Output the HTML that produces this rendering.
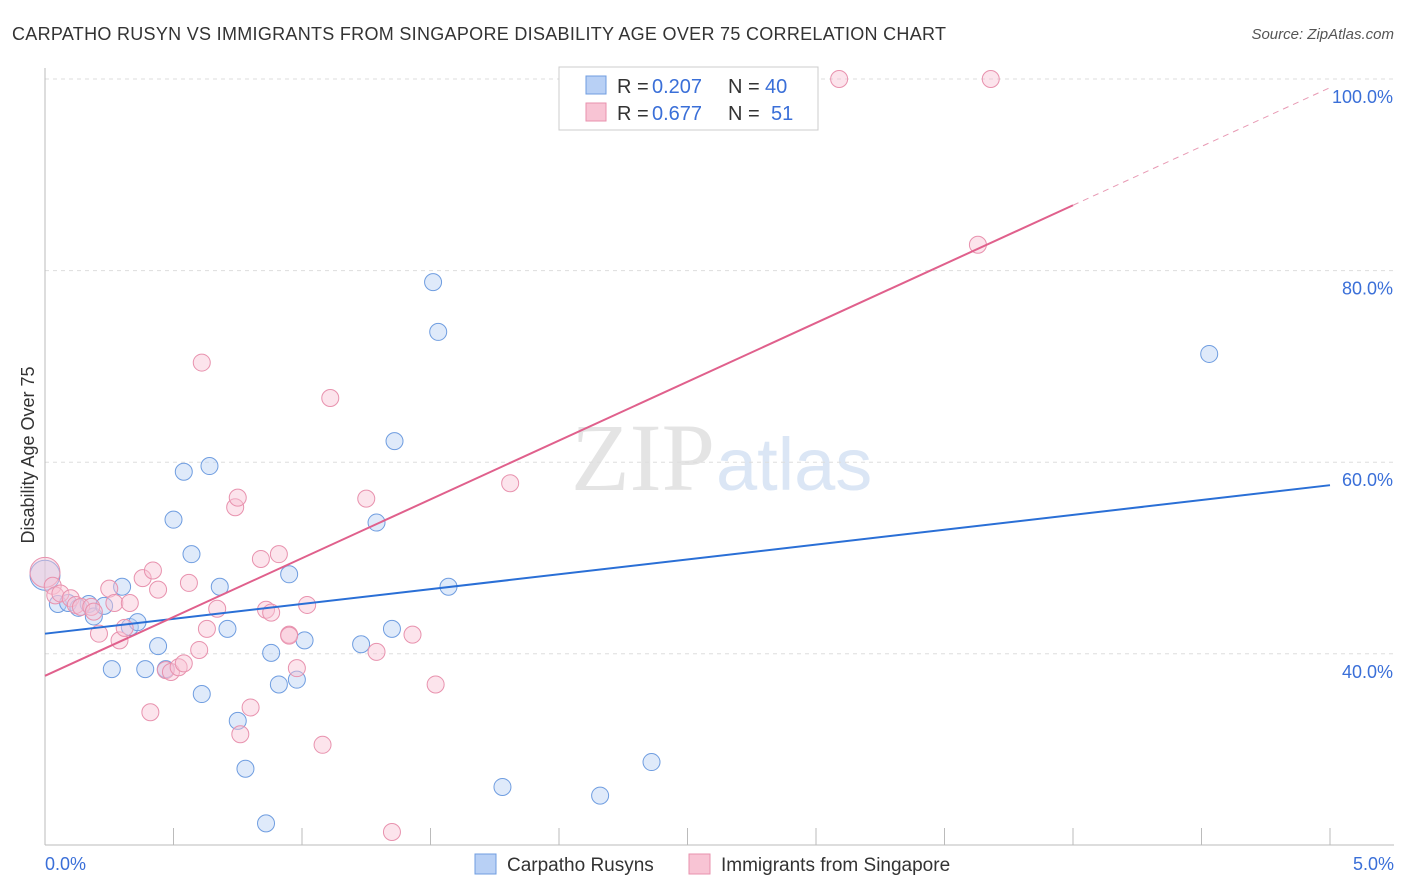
<!DOCTYPE html>
<html><head><meta charset="utf-8"><style>
body{margin:0;background:#fff;font-family:"Liberation Sans",sans-serif}
svg{display:block}
</style></head><body>
<svg id="c" width="1406" height="892" xmlns="http://www.w3.org/2000/svg">
<text x="12" y="40" font-size="18" fill="#333" textLength="934" lengthAdjust="spacing">CARPATHO RUSYN VS IMMIGRANTS FROM SINGAPORE DISABILITY AGE OVER 75 CORRELATION CHART</text>
<text x="1394" y="39" font-size="15" fill="#555" font-style="italic" text-anchor="end">Source: ZipAtlas.com</text>
<text x="715" y="490" font-size="96" fill="#e4e4e4" text-anchor="end" font-family="Liberation Serif,serif">ZIP</text>
<text x="716" y="490" font-size="74" fill="#dbe6f5">atlas</text>
<text transform="translate(34,455) rotate(-90)" font-size="18" fill="#333" text-anchor="middle">Disability Age Over 75</text>
<g id="grid"></g><g id="marks"></g>
<g>
<rect x="559" y="67" width="259" height="63" fill="#fff" stroke="#ccc"/>
<rect x="586" y="76" width="20" height="18" fill="#b8d0f5" stroke="#6f9de0"/>
<rect x="586" y="103" width="20" height="18" fill="#f8c4d4" stroke="#e892ae"/>
<text x="617" y="93" font-size="20" fill="#333">R =</text>
<text x="652" y="93" font-size="20" fill="#3a6fd8">0.207</text>
<text x="728" y="93" font-size="20" fill="#333">N =</text>
<text x="765" y="93" font-size="20" fill="#3a6fd8">40</text>
<text x="617" y="120" font-size="20" fill="#333">R =</text>
<text x="652" y="120" font-size="20" fill="#3a6fd8">0.677</text>
<text x="728" y="120" font-size="20" fill="#333">N =</text>
<text x="771" y="120" font-size="20" fill="#3a6fd8">51</text>
</g>
<g>
<rect x="475" y="854" width="21" height="20" fill="#b8d0f5" stroke="#6f9de0"/>
<text x="507" y="871" font-size="19" fill="#333">Carpatho Rusyns</text>
<rect x="689" y="854" width="21" height="20" fill="#f8c4d4" stroke="#e892ae"/>
<text x="721" y="871" font-size="19" fill="#333">Immigrants from Singapore</text>
</g>
</svg>
<script>
const xTicks=[0,5];
const yTicks=[40,60,80,100];
const blueX=[0.00,0.05,0.09,0.13,0.17,0.19,0.23,0.26,0.30,0.33,0.36,0.39,0.44,0.47,0.50,0.54,0.57,0.61,0.64,0.68,0.71,0.75,0.78,0.86,0.88,0.91,0.95,0.98,1.01,1.23,1.29,1.35,1.36,1.51,1.53,1.57,1.78,2.16,2.36,4.53];
const blueY=[48.2,45.2,45.3,44.8,45.2,43.9,45.0,38.4,47.0,42.8,43.3,38.4,40.8,38.4,54.0,59.0,50.4,35.8,59.6,47.0,42.6,33.0,28.0,22.3,40.1,36.8,48.3,37.3,41.4,41.0,53.7,42.6,62.2,78.8,73.6,47.0,26.1,25.2,28.7,71.3];
const pinkX=[0.00,0.03,0.04,0.06,0.10,0.12,0.14,0.18,0.19,0.21,0.25,0.27,0.29,0.31,0.33,0.38,0.41,0.42,0.44,0.47,0.49,0.52,0.54,0.56,0.60,0.61,0.63,0.67,0.74,0.75,0.76,0.80,0.84,0.86,0.88,0.91,0.95,0.95,0.98,1.02,1.08,1.11,1.25,1.29,1.35,1.43,1.52,1.81,3.09,3.63,3.68];
const pinkY=[48.5,47.1,46.1,46.3,45.8,45.1,44.9,44.9,44.4,42.1,46.8,45.3,41.4,42.7,45.3,47.9,33.9,48.7,46.7,38.3,38.1,38.6,39.0,47.4,40.4,70.4,42.6,44.7,55.3,56.3,31.6,34.4,49.9,44.6,44.3,50.4,42.0,41.9,38.5,45.1,30.5,66.7,56.2,40.2,21.4,42.0,36.8,57.8,100,82.7,100];
const blueLine=[42.1,57.6];
const pinkLine=[37.7,99.1];
const pinkSolidEnd=4.0;
const sx=v=>45+v*257;
const sy=v=>79+(100-v)*9.58;
const NS='http://www.w3.org/2000/svg';
const g=document.getElementById('grid'),m=document.getElementById('marks');
function el(p,t,a){const e=document.createElementNS(NS,t);for(const k in a)e.setAttribute(k,a[k]);p.appendChild(e);return e;}
yTicks.forEach(v=>{
 const l=el(g,'line',{x1:45,x2:1394,y1:sy(v),y2:sy(v),stroke:'#ddd','stroke-dasharray':'4 4'});
 
 
 const t=el(g,'text',{x:1393,y:sy(v)+24,'font-size':18,fill:'#3a6fd8','text-anchor':'end'});
 t.textContent=v.toFixed(1)+'%';
 
 
});
el(g,'line',{x1:45,x2:45,y1:68,y2:845,stroke:'#bbb'});
el(g,'line',{x1:45,x2:1394,y1:845,y2:845,stroke:'#bbb'});
for(let i=0;i<=10;i++){const x=sx(i*0.5);const tk=el(g,'line',{x1:x,x2:x,y1:828,y2:845,stroke:'#bbb'});
 
 }
xTicks.forEach((v,i)=>{const t=el(g,'text',{x:i?1394:45,y:870,'font-size':18,fill:'#3a6fd8','text-anchor':i?'end':'start'});
 t.textContent=v.toFixed(1)+'%';
 
 });
function pts(X,Y,fill,stroke,name){X.forEach((x,i)=>{const r=i===0?15:8.5;
 const c=el(m,'circle',{cx:sx(x),cy:sy(Y[i]),r:r,fill:fill,'fill-opacity':0.45,stroke:stroke,'stroke-width':1});
 
 });}
pts(blueX,blueY,'#b8d0f5','#6f9de0','carpatho-point');
pts(pinkX,pinkY,'#f8c4d4','#e892ae','singapore-point');
const bl=el(m,'line',{x1:sx(0),y1:sy(blueLine[0]),x2:sx(5),y2:sy(blueLine[1]),stroke:'#2a6fd6','stroke-width':2});


const pe=pinkLine[0]+(pinkLine[1]-pinkLine[0])*pinkSolidEnd/5;
const pl=el(m,'line',{x1:sx(0),y1:sy(pinkLine[0]),x2:sx(pinkSolidEnd),y2:sy(pe),stroke:'#e0608c','stroke-width':2});


const pd=el(m,'line',{x1:sx(pinkSolidEnd),y1:sy(pe),x2:sx(5),y2:sy(pinkLine[1]),stroke:'#e89ab4','stroke-width':1,'stroke-dasharray':'6 5'});


</script>
</body></html>
